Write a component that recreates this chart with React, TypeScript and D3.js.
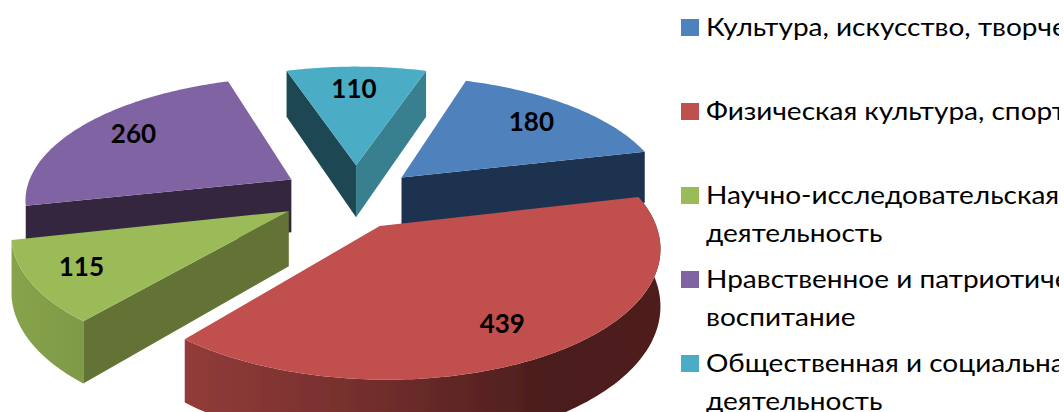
import { line, pie, range, scaleOrdinal } from "d3";

const categories = [
  "Культура, искусство, творчество",
  "Физическая культура, спорт",
  "Научно-исследовательская",
  "Нравственное и патриотическое",
  "Общественная и социальная",
];
const secondLines = ["", "", "деятельность", "воспитание", "деятельность"];
const values = [180, 439, 115, 260, 110];
const topColors = ["#4f81bd", "#c0504d", "#9bbb59", "#8064a2", "#4bacc6"];
const startWallColors = ["#1f3350", "#4b1d1d", "#627334", "#35263f", "#1f4752"];
const endWallColors = ["#1f3350", "#4b1d1d", "#627334", "#35263f", "#39808f"];

const width = 1064;
const height = 412;
const legendClip = 1059;
const legendStretch = 1.12;

// ground plane -> screen, pie has radius 1
const center = { x: 345, y: 196 };
const scaleX = 267;
const scaleY = 121.7;
const perspective = 0.145;
const depth = 54;
const explode = 0.28;
const firstAngle = (18 * Math.PI) / 180;
const step = Math.PI / 180;

// the exploded slices are not quite symmetric in the source image
const layoutShift = [
  { dx: 3, dy: 4 },
  { dx: -6, dy: 0 },
  { dx: 9, dy: -3 },
  { dx: 10, dy: 0 },
  { dx: 11, dy: 2 },
];
const labelShift = [
  { dx: -7, dy: -5 },
  { dx: 7, dy: 2 },
  { dx: -14, dy: 7 },
  { dx: -5, dy: -2 },
  { dx: -11, dy: -1 },
];

type Pt = { x: number; y: number; w: number };

function project(gx: number, gy: number): Pt {
  const w = 1 - perspective * gy;
  return { x: center.x + (scaleX * gx) / w, y: center.y + (scaleY * gy) / w, w };
}

function dropped(p: Pt): Pt {
  return { ...p, y: p.y + depth / p.w };
}

const pieGen = pie<number>().sort(null).startAngle(firstAngle).endAngle(firstAngle + 2 * Math.PI);
const arcs = pieGen(values).map((d, i) => {
  const mid = (d.startAngle + d.endAngle) / 2;
  const ox = explode * Math.sin(mid);
  const oy = -explode * Math.cos(mid);
  const shift = layoutShift[i];
  const at = (a: number, r: number) => {
    const p = project(ox + r * Math.sin(a), oy - r * Math.cos(a));
    return { ...p, x: p.x + shift.dx, y: p.y + shift.dy };
  };
  const rim = [...range(d.startAngle, d.endAngle, step), d.endAngle].map((a) => at(a, 1));
  const anchor = at(mid + 0.05, 0.75);
  const label = { x: anchor.x + labelShift[i].dx, y: anchor.y + labelShift[i].dy };
  return { i, value: d.value, mid, apex: at(0, 0), rim, oy, label };
});
const ordered = [...arcs].sort((a, b) => a.oy - b.oy);

const path = line<Pt>()
  .x((d) => d.x)
  .y((d) => d.y);

const color = scaleOrdinal<number, string>().domain(range(values.length)).range(topColors);
const rowY = (i: number) => 19 + i * 84;

function wall(points: Pt[]) {
  return path([...points, ...[...points].reverse().map(dropped)]) + "Z";
}

export default function App() {
  return (
    <svg
      width={width}
      height={height}
      viewBox={`0 0 ${width} ${height}`}
      style={{ position: "absolute", left: 0, top: 0, background: "#fff" }}
    >
      <defs>
        <linearGradient id="rim-1" gradientUnits="userSpaceOnUse" x1={180} x2={640} y1={0} y2={0}>
          <stop offset="0" stopColor="#933c3a" />
          <stop offset="0.45" stopColor="#6f2d2b" />
          <stop offset="0.8" stopColor="#4b1d1d" />
          <stop offset="1" stopColor="#4f1f1e" />
        </linearGradient>
        <linearGradient id="rim-2" gradientUnits="userSpaceOnUse" x1={10} x2={85} y1={0} y2={0}>
          <stop offset="0" stopColor="#87a34c" />
          <stop offset="1" stopColor="#7f9a46" />
        </linearGradient>
        <clipPath id="legend-clip">
          <rect x={0} y={0} width={legendClip} height={height} />
        </clipPath>
        <filter id="soft" x="-5%" y="-5%" width="110%" height="110%">
          <feGaussianBlur stdDeviation={0.5} />
        </filter>
      </defs>

      <g filter="url(#soft)">
        {ordered.map((s) => {
          const first = s.rim[0];
          const last = s.rim[s.rim.length - 1];
          return (
            <g key={s.i}>
              {first.x < s.apex.x ? <path d={wall([s.apex, first])} fill={startWallColors[s.i]} /> : null}
              {s.apex.x < last.x ? <path d={wall([last, s.apex])} fill={endWallColors[s.i]} /> : null}
              {last.x < first.x ? <path d={wall(s.rim)} fill={`url(#rim-${s.i})`} /> : null}
              <path d={path([s.apex, ...s.rim]) + "Z"} fill={color(s.i)} />
            </g>
          );
        })}
      </g>

      {arcs.map((s) => (
        <text
          key={s.i}
          x={s.label.x}
          y={s.label.y}
          textAnchor="middle"
          dominantBaseline="central"
          fontFamily="Lato, 'Open Sans', sans-serif"
          fontWeight={700}
          fontSize={26}
          fill="#000"
        >
          {s.value}
        </text>
      ))}

      <g clipPath="url(#legend-clip)" fontFamily="Lato, 'Open Sans', sans-serif" fontSize={25} fill="#000">
        {categories.map((name, i) => (
          <g key={name}>
            <rect x={681} y={rowY(i)} width={18} height={17} fill={color(i)} />
            <text transform={`translate(706,${rowY(i) + 17}) scale(${legendStretch},1)`}>{name}</text>
            {secondLines[i] ? (
              <text transform={`translate(706,${rowY(i) + 55}) scale(${legendStretch},1)`}>{secondLines[i]}</text>
            ) : null}
          </g>
        ))}
      </g>
    </svg>
  );
}
